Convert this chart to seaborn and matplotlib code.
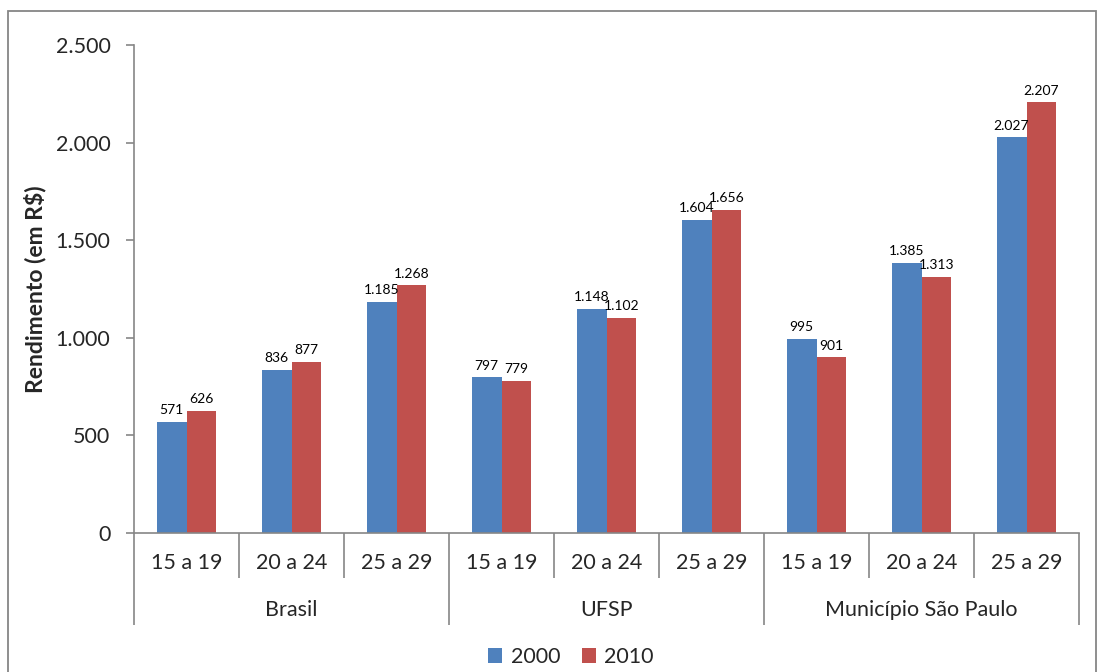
import matplotlib
matplotlib.use("Agg")
import matplotlib.pyplot as plt
import seaborn as sns
import pandas as pd
from matplotlib.patches import Rectangle, Patch

# ---- data ----
groups = ["Brasil", "UFSP", "Município São Paulo"]
ages = ["15 a 19", "20 a 24", "25 a 29"]
years = ["2000", "2010"]
vals_2000 = [571, 836, 1185, 797, 1148, 1604, 995, 1385, 2027]
vals_2010 = [626, 877, 1268, 779, 1102, 1656, 901, 1313, 2207]
y_ticks = [0, 500, 1000, 1500, 2000, 2500]
y_label = "Rendimento (em R$)"
colors = {"2000": "#4F81BD", "2010": "#C0504D"}

sns.set_theme(style="white")
plt.rcParams["font.family"] = ["Lato", "DejaVu Sans"]

cats = [f"{g}|{a}" for g in groups for a in ages]
df = pd.DataFrame({
    "cat": cats * 2,
    "year": ["2000"] * 9 + ["2010"] * 9,
    "val": vals_2000 + vals_2010,
})

fig = plt.figure(figsize=(11.04, 6.72), dpi=100)
ax = fig.add_axes([134 / 1104, (672 - 533) / 672, (1079 - 134) / 1104, (533 - 45) / 672])

sns.barplot(data=df, x="cat", y="val", hue="year", order=cats, hue_order=years,
            palette=colors, width=0.57, gap=0, saturation=1, ax=ax, legend=False,
            edgecolor="none")

fmt = lambda v: f"{int(v):,}".replace(",", ".")
for cont in ax.containers:
    ax.bar_label(cont, labels=[fmt(b.get_height()) for b in cont], padding=4,
                 fontsize=10, color="black")

ax.set_xlim(-0.5, 8.5)
ax.set_ylim(0, 2500)
ax.set_yticks(y_ticks)
ax.set_yticklabels([fmt(t) for t in y_ticks], fontsize=15.5)
ax.tick_params(axis="y", left=True, length=6, width=1.2, color="#868686", pad=11)
ax.set_xticks([])
ax.set_xlabel("")
ax.set_ylabel(y_label, fontsize=16.5, fontweight="bold")
ax.yaxis.set_label_coords((46 - 134) / (1079 - 134), 0.5)

for s in ["top", "right"]:
    ax.spines[s].set_visible(False)
for s in ["left", "bottom"]:
    ax.spines[s].set_color("#868686")
    ax.spines[s].set_linewidth(1.2)

H = 533 - 45
trans = ax.get_xaxis_transform()
# category separators
for i in range(10):
    x = i - 0.5
    depth = 92 / H if i % 3 == 0 else 45 / H
    ax.plot([x, x], [0, -depth], transform=trans, color="#868686", lw=1.2,
            clip_on=False, solid_capstyle="butt")
# category labels
for i, c in enumerate(cats):
    ax.text(i, -30 / H, c.split("|")[1], transform=trans, ha="center", va="center",
            fontsize=15.5)
for gi, g in enumerate(groups):
    ax.text(gi * 3 + 1, -77 / H, g, transform=trans, ha="center", va="center",
            fontsize=15.5)

handles = [Patch(facecolor=colors[y], edgecolor="none", label=y) for y in years]
fig.legend(handles=handles, loc="center", bbox_to_anchor=(571 / 1104, 1 - 657 / 672),
           ncol=2, frameon=False, fontsize=15.5, handlelength=0.65, handleheight=0.65,
           handletextpad=0.4, columnspacing=1.0)

fig.patches.append(Rectangle((8 / 1104, -0.01), (1096 - 8) / 1104, 1.01 - 11 / 672,
                             transform=fig.transFigure, fill=False,
                             edgecolor="#868686", lw=1.3))

fig.savefig("out.png", dpi=100, facecolor="white")
